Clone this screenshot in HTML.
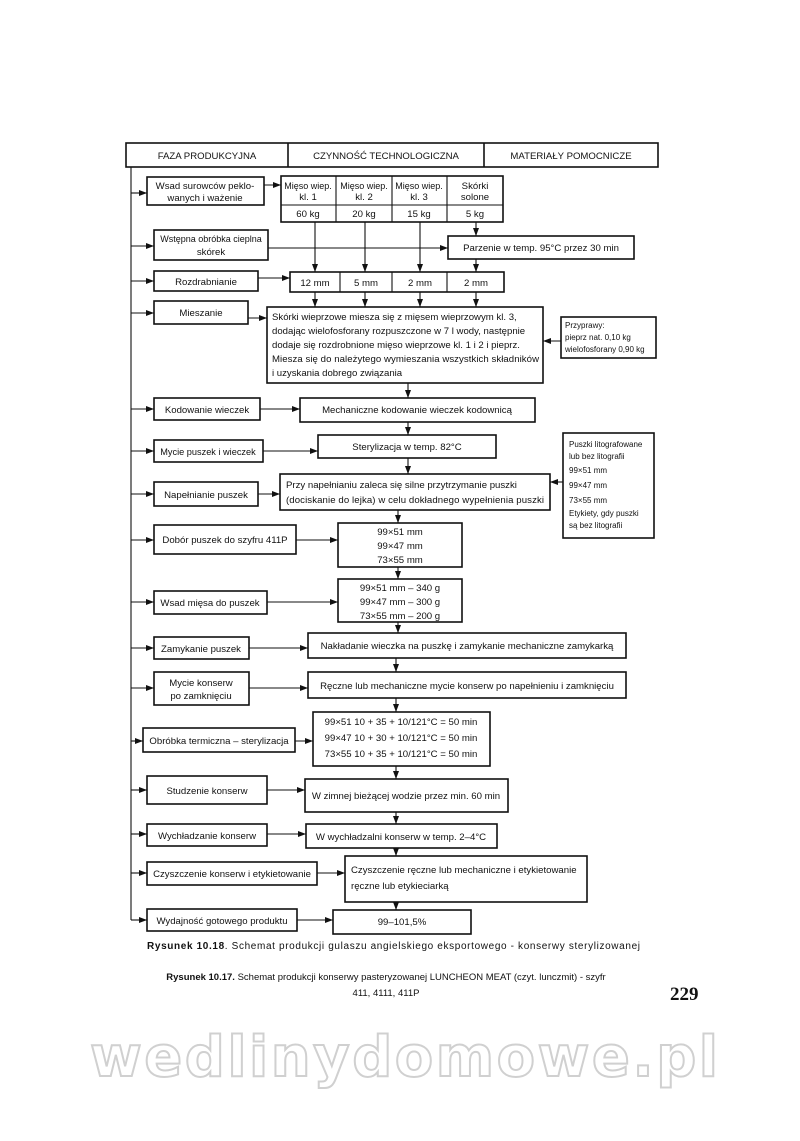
<!DOCTYPE html>
<html><head><meta charset="utf-8"><style>
html,body{margin:0;padding:0;background:#fff;}
svg{display:block;}
text{font-family:"Liberation Sans",sans-serif;font-size:9.6px;fill:#111;}
.b{fill:#fff;stroke:#111;stroke-width:1.6;}
.l{stroke:#111;stroke-width:1.1;fill:none;}
</style></head><body>
<svg width="800" height="1141" viewBox="0 0 800 1141" xmlns="http://www.w3.org/2000/svg">
<defs><marker id="a" markerWidth="8" markerHeight="6" refX="8" refY="3" orient="auto" markerUnits="userSpaceOnUse"><path d="M0,0 L8,3 L0,6 z" fill="#111"/></marker></defs>

<rect class="b" x="126" y="143" width="532" height="24"/>
<line class="l" x1="288" y1="143" x2="288" y2="167" style="stroke-width:1.6"/>
<line class="l" x1="484" y1="143" x2="484" y2="167" style="stroke-width:1.6"/>
<text x="207" y="159" text-anchor="middle">FAZA PRODUKCYJNA</text>
<text x="386" y="159" text-anchor="middle">CZYNNOŚĆ TECHNOLOGICZNA</text>
<text x="571" y="159" text-anchor="middle">MATERIAŁY POMOCNICZE</text>

<line class="l" x1="131" y1="167" x2="131" y2="920"/>
<g marker-end="url(#a)">
<line class="l" x1="131" y1="193" x2="147" y2="193"/>
<line class="l" x1="131" y1="246" x2="154" y2="246"/>
<line class="l" x1="131" y1="281" x2="154" y2="281"/>
<line class="l" x1="131" y1="313" x2="154" y2="313"/>
<line class="l" x1="131" y1="409" x2="154" y2="409"/>
<line class="l" x1="131" y1="451" x2="154" y2="451"/>
<line class="l" x1="131" y1="494" x2="154" y2="494"/>
<line class="l" x1="131" y1="540" x2="154" y2="540"/>
<line class="l" x1="131" y1="602" x2="154" y2="602"/>
<line class="l" x1="131" y1="648" x2="154" y2="648"/>
<line class="l" x1="131" y1="688" x2="154" y2="688"/>
<line class="l" x1="131" y1="741" x2="143" y2="741"/>
<line class="l" x1="131" y1="790" x2="147" y2="790"/>
<line class="l" x1="131" y1="834" x2="147" y2="834"/>
<line class="l" x1="131" y1="873" x2="147" y2="873"/>
<line class="l" x1="131" y1="920" x2="147" y2="920"/>
</g>

<rect class="b" x="147" y="177" width="117" height="28"/>
<text x="205" y="189" text-anchor="middle">Wsad surowców peklo-</text>
<text x="205" y="201" text-anchor="middle">wanych  i ważenie</text>
<line class="l" x1="264" y1="185" x2="281" y2="185" marker-end="url(#a)"/>
<rect class="b" x="281" y="176" width="222" height="46"/>
<line class="l" x1="336" y1="176" x2="336" y2="222"/>
<line class="l" x1="392" y1="176" x2="392" y2="222"/>
<line class="l" x1="447" y1="176" x2="447" y2="222"/>
<line class="l" x1="281" y1="205" x2="503" y2="205"/>
<g style="font-size:9px">
<text x="308" y="189" text-anchor="middle" style="font-size:9px">Mięso wiep.</text><text x="308" y="200" text-anchor="middle">kl. 1</text>
<text x="364" y="189" text-anchor="middle" style="font-size:9px">Mięso wiep.</text><text x="364" y="200" text-anchor="middle">kl. 2</text>
<text x="419" y="189" text-anchor="middle" style="font-size:9px">Mięso wiep.</text><text x="419" y="200" text-anchor="middle">kl. 3</text>
</g>
<text x="475" y="189" text-anchor="middle">Skórki</text><text x="475" y="200" text-anchor="middle">solone</text>
<text x="308" y="217" text-anchor="middle">60 kg</text>
<text x="364" y="217" text-anchor="middle">20 kg</text>
<text x="419" y="217" text-anchor="middle">15 kg</text>
<text x="475" y="217" text-anchor="middle">5 kg</text>

<rect class="b" x="154" y="230" width="114" height="30"/>
<text x="211" y="242" text-anchor="middle" style="font-size:9px">Wstępna obróbka cieplna</text>
<text x="211" y="255" text-anchor="middle">skórek</text>
<line class="l" x1="268" y1="248" x2="448" y2="248" marker-end="url(#a)"/>
<rect class="b" x="448" y="236" width="186" height="23"/>
<text x="541" y="251" text-anchor="middle">Parzenie w temp. 95°C przez 30 min</text>

<g marker-end="url(#a)">
<line class="l" x1="315" y1="222" x2="315" y2="272"/>
<line class="l" x1="365" y1="222" x2="365" y2="272"/>
<line class="l" x1="420" y1="222" x2="420" y2="272"/>
<line class="l" x1="476" y1="222" x2="476" y2="236"/>
<line class="l" x1="476" y1="259" x2="476" y2="272"/>
</g>

<rect class="b" x="154" y="271" width="104" height="20"/>
<text x="206" y="285" text-anchor="middle">Rozdrabnianie</text>
<line class="l" x1="258" y1="278" x2="290" y2="278" marker-end="url(#a)"/>
<rect class="b" x="290" y="272" width="214" height="20"/>
<line class="l" x1="340" y1="272" x2="340" y2="292"/>
<line class="l" x1="392" y1="272" x2="392" y2="292"/>
<line class="l" x1="447" y1="272" x2="447" y2="292"/>
<text x="315" y="286" text-anchor="middle">12 mm</text>
<text x="366" y="286" text-anchor="middle">5 mm</text>
<text x="420" y="286" text-anchor="middle">2 mm</text>
<text x="476" y="286" text-anchor="middle">2 mm</text>
<g marker-end="url(#a)">
<line class="l" x1="315" y1="292" x2="315" y2="307"/>
<line class="l" x1="365" y1="292" x2="365" y2="307"/>
<line class="l" x1="420" y1="292" x2="420" y2="307"/>
<line class="l" x1="476" y1="292" x2="476" y2="307"/>
</g>

<rect class="b" x="154" y="301" width="94" height="23"/>
<text x="201" y="316" text-anchor="middle">Mieszanie</text>
<line class="l" x1="248" y1="318" x2="267" y2="318" marker-end="url(#a)"/>
<rect class="b" x="267" y="307" width="276" height="76"/>
<text x="272" y="320">Skórki wieprzowe miesza się z mięsem wieprzowym kl. 3,</text>
<text x="272" y="334">dodając wielofosforany rozpuszczone w 7 l wody, następnie</text>
<text x="272" y="348">dodaje się rozdrobnione mięso wieprzowe kl. 1 i 2 i pieprz.</text>
<text x="272" y="362" textLength="267">Miesza się do należytego wymieszania wszystkich składników</text>
<text x="272" y="376">i uzyskania dobrego związania</text>
<rect class="b" x="561" y="317" width="95" height="41"/>
<text x="565" y="328" style="font-size:8px">Przyprawy:</text>
<text x="565" y="340" style="font-size:8px">pieprz nat. 0,10 kg</text>
<text x="565" y="352" style="font-size:8px">wielofosforany 0,90 kg</text>
<line class="l" x1="561" y1="341" x2="543" y2="341" marker-end="url(#a)"/>
<line class="l" x1="408" y1="383" x2="408" y2="398" marker-end="url(#a)"/>

<rect class="b" x="154" y="398" width="106" height="22"/>
<text x="207" y="413" text-anchor="middle">Kodowanie wieczek</text>
<line class="l" x1="260" y1="409" x2="300" y2="409" marker-end="url(#a)"/>
<rect class="b" x="300" y="398" width="235" height="24"/>
<text x="417" y="413" text-anchor="middle">Mechaniczne kodowanie wieczek kodownicą</text>
<line class="l" x1="408" y1="422" x2="408" y2="435" marker-end="url(#a)"/>

<rect class="b" x="154" y="440" width="109" height="22"/>
<text x="208" y="455" text-anchor="middle" style="font-size:9.2px">Mycie puszek i wieczek</text>
<line class="l" x1="263" y1="451" x2="318" y2="451" marker-end="url(#a)"/>
<rect class="b" x="318" y="435" width="178" height="23"/>
<text x="407" y="450" text-anchor="middle">Sterylizacja w temp. 82°C</text>
<line class="l" x1="408" y1="458" x2="408" y2="474" marker-end="url(#a)"/>

<rect class="b" x="154" y="482" width="104" height="24"/>
<text x="206" y="498" text-anchor="middle">Napełnianie puszek</text>
<line class="l" x1="258" y1="494" x2="280" y2="494" marker-end="url(#a)"/>
<rect class="b" x="280" y="474" width="270" height="36"/>
<text x="286" y="488">Przy napełnianiu zaleca się silne przytrzymanie puszki</text>
<text x="286" y="503" textLength="258">(dociskanie do lejka) w celu dokładnego wypełnienia puszki</text>
<rect class="b" x="563" y="433" width="91" height="105"/>
<text x="569" y="447" style="font-size:8px">Puszki litografowane</text>
<text x="569" y="459" style="font-size:8px">lub bez litografii</text>
<text x="569" y="473" style="font-size:8px">99×51 mm</text>
<text x="569" y="488" style="font-size:8px">99×47 mm</text>
<text x="569" y="503" style="font-size:8px">73×55 mm</text>
<text x="569" y="516" style="font-size:8px">Etykiety, gdy puszki</text>
<text x="569" y="528" style="font-size:8px">są bez litografii</text>
<line class="l" x1="563" y1="482" x2="550" y2="482" marker-end="url(#a)"/>
<line class="l" x1="398" y1="510" x2="398" y2="523" marker-end="url(#a)"/>

<rect class="b" x="154" y="525" width="142" height="29"/>
<text x="225" y="543" text-anchor="middle">Dobór puszek do szyfru 411P</text>
<line class="l" x1="296" y1="540" x2="338" y2="540" marker-end="url(#a)"/>
<rect class="b" x="338" y="523" width="124" height="44"/>
<text x="400" y="535" text-anchor="middle">99×51 mm</text>
<text x="400" y="549" text-anchor="middle">99×47 mm</text>
<text x="400" y="563" text-anchor="middle">73×55 mm</text>
<line class="l" x1="398" y1="567" x2="398" y2="579" marker-end="url(#a)"/>

<rect class="b" x="154" y="591" width="113" height="23"/>
<text x="210" y="606" text-anchor="middle">Wsad mięsa do puszek</text>
<line class="l" x1="267" y1="602" x2="338" y2="602" marker-end="url(#a)"/>
<rect class="b" x="338" y="579" width="124" height="43"/>
<text x="400" y="591" text-anchor="middle">99×51 mm – 340 g</text>
<text x="400" y="605" text-anchor="middle">99×47 mm – 300 g</text>
<text x="400" y="619" text-anchor="middle">73×55 mm – 200 g</text>
<line class="l" x1="398" y1="622" x2="398" y2="633" marker-end="url(#a)"/>

<rect class="b" x="154" y="637" width="95" height="22"/>
<text x="201" y="652" text-anchor="middle">Zamykanie puszek</text>
<line class="l" x1="249" y1="648" x2="308" y2="648" marker-end="url(#a)"/>
<rect class="b" x="308" y="633" width="318" height="25"/>
<text x="467" y="649" text-anchor="middle">Nakładanie wieczka na puszkę i zamykanie mechaniczne zamykarką</text>
<line class="l" x1="396" y1="658" x2="396" y2="672" marker-end="url(#a)"/>

<rect class="b" x="154" y="672" width="95" height="33"/>
<text x="201" y="686" text-anchor="middle">Mycie konserw</text>
<text x="201" y="699" text-anchor="middle">po zamknięciu</text>
<line class="l" x1="249" y1="688" x2="308" y2="688" marker-end="url(#a)"/>
<rect class="b" x="308" y="672" width="318" height="26"/>
<text x="467" y="689" text-anchor="middle">Ręczne lub mechaniczne mycie konserw po napełnieniu i zamknięciu</text>
<line class="l" x1="396" y1="698" x2="396" y2="712" marker-end="url(#a)"/>

<rect class="b" x="143" y="728" width="152" height="24"/>
<text x="219" y="744" text-anchor="middle">Obróbka termiczna – sterylizacja</text>
<line class="l" x1="295" y1="741" x2="313" y2="741" marker-end="url(#a)"/>
<rect class="b" x="313" y="712" width="177" height="54"/>
<text x="401" y="725" text-anchor="middle">99×51 10 + 35 + 10/121°C = 50 min</text>
<text x="401" y="741" text-anchor="middle">99×47 10 + 30 + 10/121°C = 50 min</text>
<text x="401" y="757" text-anchor="middle">73×55 10 + 35 + 10/121°C = 50 min</text>
<line class="l" x1="396" y1="766" x2="396" y2="779" marker-end="url(#a)"/>

<rect class="b" x="147" y="776" width="120" height="28"/>
<text x="207" y="794" text-anchor="middle">Studzenie konserw</text>
<line class="l" x1="267" y1="790" x2="305" y2="790" marker-end="url(#a)"/>
<rect class="b" x="305" y="779" width="203" height="33"/>
<text x="406" y="799" text-anchor="middle">W zimnej bieżącej wodzie przez min. 60 min</text>
<line class="l" x1="396" y1="812" x2="396" y2="824" marker-end="url(#a)"/>

<rect class="b" x="147" y="824" width="120" height="22"/>
<text x="207" y="839" text-anchor="middle">Wychładzanie konserw</text>
<line class="l" x1="267" y1="834" x2="306" y2="834" marker-end="url(#a)"/>
<rect class="b" x="306" y="824" width="191" height="24"/>
<text x="401" y="840" text-anchor="middle">W wychładzalni konserw w temp. 2–4°C</text>
<line class="l" x1="396" y1="848" x2="396" y2="856" marker-end="url(#a)"/>

<rect class="b" x="147" y="862" width="170" height="23"/>
<text x="232" y="877" text-anchor="middle">Czyszczenie konserw i etykietowanie</text>
<line class="l" x1="317" y1="873" x2="345" y2="873" marker-end="url(#a)"/>
<rect class="b" x="345" y="856" width="242" height="46"/>
<text x="351" y="873">Czyszczenie ręczne lub mechaniczne i etykietowanie</text>
<text x="351" y="889">ręczne lub etykieciarką</text>
<line class="l" x1="396" y1="902" x2="396" y2="910" marker-end="url(#a)"/>

<rect class="b" x="147" y="909" width="150" height="22"/>
<text x="222" y="924" text-anchor="middle">Wydajność gotowego produktu</text>
<line class="l" x1="297" y1="920" x2="333" y2="920" marker-end="url(#a)"/>
<rect class="b" x="333" y="910" width="138" height="24"/>
<text x="402" y="925" text-anchor="middle">99–101,5%</text>

<text x="147" y="949" style="font-size:10px" textLength="493"><tspan font-weight="bold">Rysunek 10.18</tspan>. Schemat produkcji gulaszu angielskiego eksportowego - konserwy sterylizowanej</text>
<text x="386" y="980" text-anchor="middle" style="font-size:9.5px"><tspan font-weight="bold">Rysunek 10.17.</tspan> Schemat produkcji konserwy pasteryzowanej LUNCHEON MEAT (czyt. lunczmit) - szyfr</text>
<text x="386" y="996" text-anchor="middle" style="font-size:9.5px">411, 4111, 411P</text>
<text x="670" y="1000" style="font-family:'Liberation Serif',serif;font-size:19px;font-weight:bold">229</text>

<text x="404" y="1076" text-anchor="middle" textLength="628" style="font-family:'DejaVu Sans',sans-serif;font-size:56px;font-weight:bold;fill:#fff;stroke:#d0d0d0;stroke-width:2">wedlinydomowe.pl</text>
</svg>
</body></html>
